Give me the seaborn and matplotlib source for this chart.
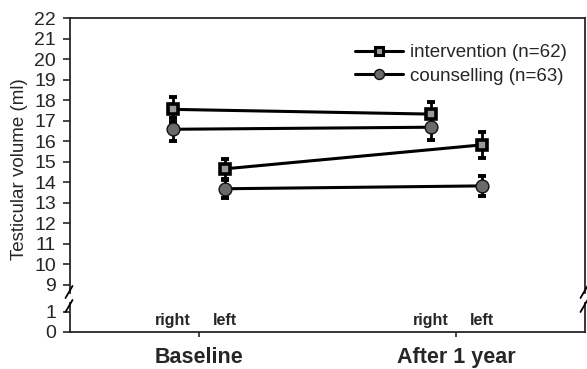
import numpy as np
import pandas as pd
import seaborn as sns
import matplotlib.pyplot as plt
from matplotlib.lines import Line2D

# values (order: baseline right, baseline left, after right, after left)
timepoints = ["Baseline", "After 1 year"]
sides = ["right", "left"]
point_time = ["Baseline", "Baseline", "After 1 year", "After 1 year"]
point_side = ["right", "left", "right", "left"]
intervention_mean = [17.55, 14.65, 17.32, 15.82]
intervention_se = [0.60, 0.50, 0.58, 0.62]
counselling_mean = [16.58, 13.68, 16.68, 13.82]
counselling_se = [0.55, 0.45, 0.62, 0.49]
groups = ["intervention (n=62)", "counselling (n=63)"]

sns.set_style("ticks")
plt.rcParams["font.family"] = ["Liberation Sans", "DejaVu Sans"]

rows = []
for g, means, ses in [(groups[0], intervention_mean, intervention_se),
                      (groups[1], counselling_mean, counselling_se)]:
    for t, s, m, e in zip(point_time, point_side, means, ses):
        rows.append({"group": g, "time": t, "side": s, "mean": m, "se": e})
df = pd.DataFrame(rows)
offset = {"right": -0.1, "left": 0.1}
df["x"] = df["time"].map({t: i for i, t in enumerate(timepoints)}) + df["side"].map(offset)

styles = {
    groups[0]: dict(marker="s", ms=7.4, mfc="#9a9a9a", mec="black", mew=2.6),
    groups[1]: dict(marker="o", ms=9.2, mfc="#6a6a6a", mec="#111111", mew=1.0),
}
leg_styles = {
    groups[0]: dict(marker="s", ms=5.4, mfc="#9a9a9a", mec="black", mew=2.2),
    groups[1]: dict(marker="o", ms=7.2, mfc="#6a6a6a", mec="#111111", mew=1.0),
}

fig = plt.figure(figsize=(5.87, 3.69), dpi=100)
ax = fig.add_axes([0.1193, 0.206, 0.8773, 0.745])
axb = fig.add_axes([0.1193, 0.1003, 0.8773, 0.0775], sharex=ax)

for g in groups[::-1]:
    sub_g = df[df["group"] == g]
    for s in sides:
        sub = sub_g[sub_g["side"] == s]
        ax.errorbar(sub["x"], sub["mean"], yerr=sub["se"], fmt="none",
                    ecolor="black", elinewidth=2, capsize=3.2, capthick=2.8, zorder=3)
        sns.lineplot(data=sub, x="x", y="mean", ax=ax, color="black", lw=2.2,
                     zorder=4, legend=False, **styles[g])

ax.set_ylim(8.6, 22)
ax.set_yticks(range(9, 23))
ax.set_xlim(-0.5, 1.5)
ax.spines["bottom"].set_visible(False)
ax.tick_params(axis="x", bottom=False, labelbottom=False)
ax.tick_params(axis="y", labelsize=14, length=5, width=1.2, pad=5)
for sp in ["left", "top", "right"]:
    ax.spines[sp].set_linewidth(1.3)
ax.set_xlabel("")
ax.set_ylabel("")

axb.set_ylim(0, 1.4)
axb.set_yticks([0, 1])
axb.spines["top"].set_visible(False)
for sp in ["left", "bottom", "right"]:
    axb.spines[sp].set_linewidth(1.3)
axb.set_xticks(range(len(timepoints)))
axb.set_xticklabels(timepoints, fontsize=15.5, fontweight="bold")
axb.tick_params(axis="x", length=3.6, width=1.2, pad=7)
axb.tick_params(axis="y", labelsize=14, length=5, width=1.2, pad=5)
for i, t in enumerate(timepoints):
    for s in sides:
        axb.text(i + offset[s], 0.55, s, ha="center", va="center",
                 fontsize=11.5, fontweight="bold")

fig.text(20 / 587, 1 - 169 / 369, "Testicular volume (ml)", rotation=90,
         ha="center", va="center", fontsize=13.5)

# axis break marks
W, H = 587, 369
for x0 in [69, 584]:
    for y0 in [292, 306]:
        fig.add_artist(Line2D([(x0 - 3.5) / W, (x0 + 3.5) / W],
                              [1 - (y0 + 6) / H, 1 - (y0 - 6) / H],
                              color="black", lw=1.3))

handles = [Line2D([], [], color="black", lw=2.2, **leg_styles[g]) for g in groups]
fig.legend(handles, groups, loc="upper left", bbox_to_anchor=(355 / W, 1 - 44 / H),
           frameon=False, fontsize=13.5, handlelength=2.55, handletextpad=0.38,
           labelspacing=0.35, borderpad=0, borderaxespad=0)

fig.savefig("out.png", dpi=100)
